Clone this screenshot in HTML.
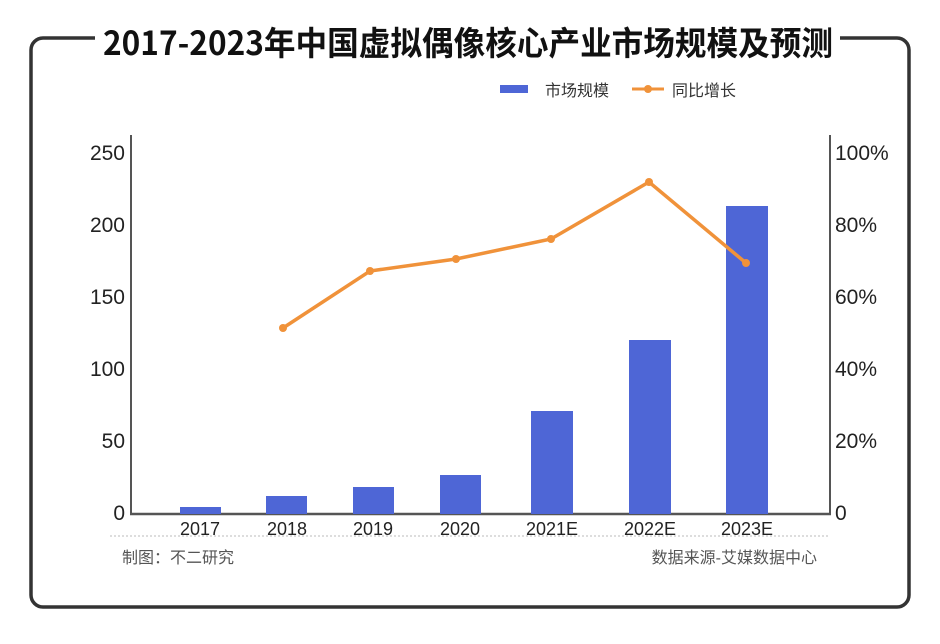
<!DOCTYPE html>
<html><head><meta charset="utf-8"><style>
body{margin:0;background:#fff;}
svg{display:block;font-family:"Liberation Sans","Noto Sans CJK SC",sans-serif;}
</style></head><body>
<svg width="940" height="644" viewBox="0 0 940 644">
<rect width="940" height="644" fill="#fff"/>
<rect x="31" y="38" width="878" height="569" rx="12" fill="none" stroke="#333" stroke-width="3.5"/>
<rect x="95" y="20" width="745" height="40" fill="#fff"/>
<text x="468" y="55" text-anchor="middle" font-size="33" font-weight="bold" fill="#111" font-family="'Noto Sans CJK SC',sans-serif" textLength="730" lengthAdjust="spacingAndGlyphs">2017-2023年中国虚拟偶像核心产业市场规模及预测</text>
<rect x="500" y="85" width="28" height="8" fill="#4e66d6"/>
<text x="545" y="96" font-size="16" fill="#333">市场规模</text>
<line x1="632" y1="89" x2="664" y2="89" stroke="#f0923a" stroke-width="3"/>
<circle cx="648" cy="89" r="4" fill="#f0923a"/>
<text x="672" y="96" font-size="16" fill="#333">同比增长</text>
<line x1="131" y1="135" x2="131" y2="515" stroke="#555" stroke-width="2"/>
<line x1="830" y1="135" x2="830" y2="515" stroke="#555" stroke-width="2"/>
<line x1="130" y1="514" x2="831" y2="514" stroke="#555" stroke-width="2.5"/>
<g font-size="21" fill="#222" text-anchor="end">
<text x="125" y="160">250</text><text x="125" y="232">200</text><text x="125" y="304">150</text>
<text x="125" y="376">100</text><text x="125" y="448">50</text><text x="125" y="520">0</text>
</g>
<g font-size="21" fill="#222" text-anchor="start">
<text x="835" y="160">100%</text><text x="835" y="232">80%</text><text x="835" y="304">60%</text>
<text x="835" y="376">40%</text><text x="835" y="448">20%</text><text x="835" y="520">0</text>
</g>
<g fill="#4e66d6">
<rect x="180" y="507" width="41" height="7"/>
<rect x="266" y="496" width="41" height="18"/>
<rect x="353" y="487" width="41" height="27"/>
<rect x="440" y="475" width="41" height="39"/>
<rect x="531" y="411" width="42" height="103"/>
<rect x="629" y="340" width="42" height="174"/>
<rect x="726" y="206" width="42" height="308"/>
</g>
<g font-size="18" fill="#222" text-anchor="middle">
<text x="200" y="535">2017</text><text x="287" y="535">2018</text><text x="373" y="535">2019</text>
<text x="460" y="535">2020</text><text x="552" y="535">2021E</text><text x="650" y="535">2022E</text><text x="747" y="535">2023E</text>
</g>
<line x1="110" y1="536" x2="830" y2="536" stroke="#bbb" stroke-dasharray="2,2"/>
<polyline points="283,328 370,271 456,259 551,239 649,182 746,263" fill="none" stroke="#f0923a" stroke-width="3.5"/>
<g fill="#f0923a">
<circle cx="283" cy="328" r="4"/><circle cx="370" cy="271" r="4"/><circle cx="456" cy="259" r="4"/>
<circle cx="551" cy="239" r="4"/><circle cx="649" cy="182" r="4"/><circle cx="746" cy="263" r="4"/>
</g>
<text x="122" y="563" font-size="16" fill="#555">制图：不二研究</text>
<text x="817" y="563" font-size="16" fill="#555" text-anchor="end">数据来源-艾媒数据中心</text>
</svg>
</body></html>
